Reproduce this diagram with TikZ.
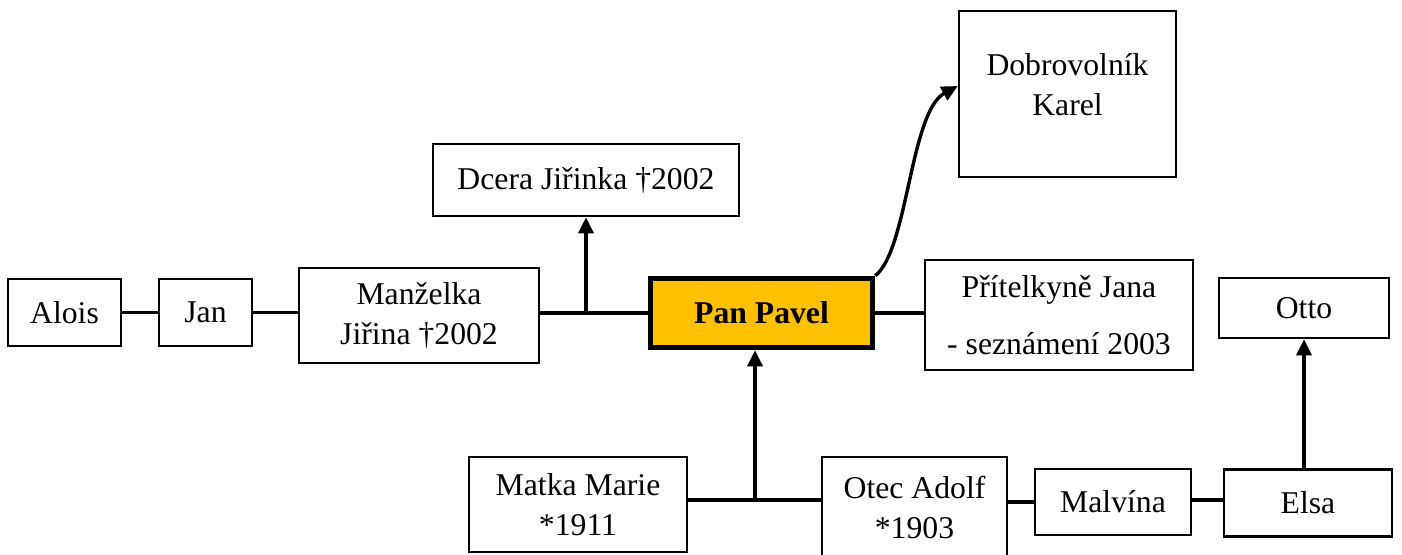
\documentclass[tikz,border=0pt]{standalone}
\usepackage{fontspec}
\setmainfont{Liberation Serif}
\usetikzlibrary{arrows.meta}
\definecolor{ppfill}{HTML}{FFC000}
\begin{document}
\begin{tikzpicture}[x=1pt,y=-1pt,
  every node/.style={font=\fontsize{31.7}{40}\selectfont, align=center, inner sep=0pt},
  box/.style={draw=black, line width=2.6pt, rectangle},
  conn/.style={line width=3.4pt, draw=black},
  arr/.style={conn, -{Triangle[length=16pt,width=15pt]}}]
\useasboundingbox (0,0) rectangle (1402,554);
\clip (0,0) rectangle (1402,554);
% nodes
\node[box, minimum width=113, minimum height=67] (al) at (64.5,312.5) {Alois};
\node[box, minimum width=93, minimum height=67] (jan) at (205.5,312.5) {Jan};
\node[box, minimum width=240, minimum height=95] (mz) at (419,315.5) {Manželka\\Jiřina †2002};
\node[box, minimum width=306, minimum height=72] (dc) at (586,180) {Dcera Jiřinka †2002};
\node[draw=black, line width=5.5pt, fill=ppfill, minimum width=222, minimum height=69,
      font=\fontsize{31.7}{40}\selectfont\bfseries] (pp) at (761.5,313) {Pan Pavel};
\node[box, minimum width=217, minimum height=166] (dk) at (1067.5,94) {};
\node (dkt) at (1067.5,85) {Dobrovolník\\Karel};
\node[box, minimum width=268, minimum height=110] (pj) at (1059,315) {Přítelkyně Jana\\[17pt] - seznámení 2003};
\node[box, minimum width=170, minimum height=60] (ot) at (1304,308) {Otto};
\node[box, minimum width=218, minimum height=95] (mm) at (578,504.5) {Matka Marie\\*1911};
\node[box, minimum width=185, minimum height=130] (oa) at (914.5,522) {};
\node (oat) at (914.5,507) {Otec Adolf\\*1903};
\node[box, minimum width=156, minimum height=66] (ma) at (1113,502) {Malvína};
\node[box, minimum width=168, minimum height=67] (el) at (1308,503) {Elsa};
% connectors
\draw[conn] (al.east) -- (jan.west);
\draw[conn] (jan.east) -- (jan.east -| mz.west);
\draw[conn] (mz.east |- pp.west) -- (pp.west);
\coordinate (j1) at (586,313);
\draw[arr] (j1) -- (dc.south);
\draw[conn] (pp.east) -- (pp.east -| pj.west);
\draw[arr] (pp.north east) .. controls (908,250) and (910,112) .. ([yshift=8pt]dk.west);
\coordinate (j2) at (755,500);
\draw[conn] (mm.east |- j2) -- (j2 -| oa.west);
\draw[arr] (j2) -- (j2 |- pp.south);
\draw[conn] (oa.east |- ma.west) -- (ma.west);
\draw[conn] (ma.east |- 0,500) -- (el.west |- 0,500);
\draw[arr] (el.north -| ot.south) -- (ot.south);
\end{tikzpicture}
\end{document}
